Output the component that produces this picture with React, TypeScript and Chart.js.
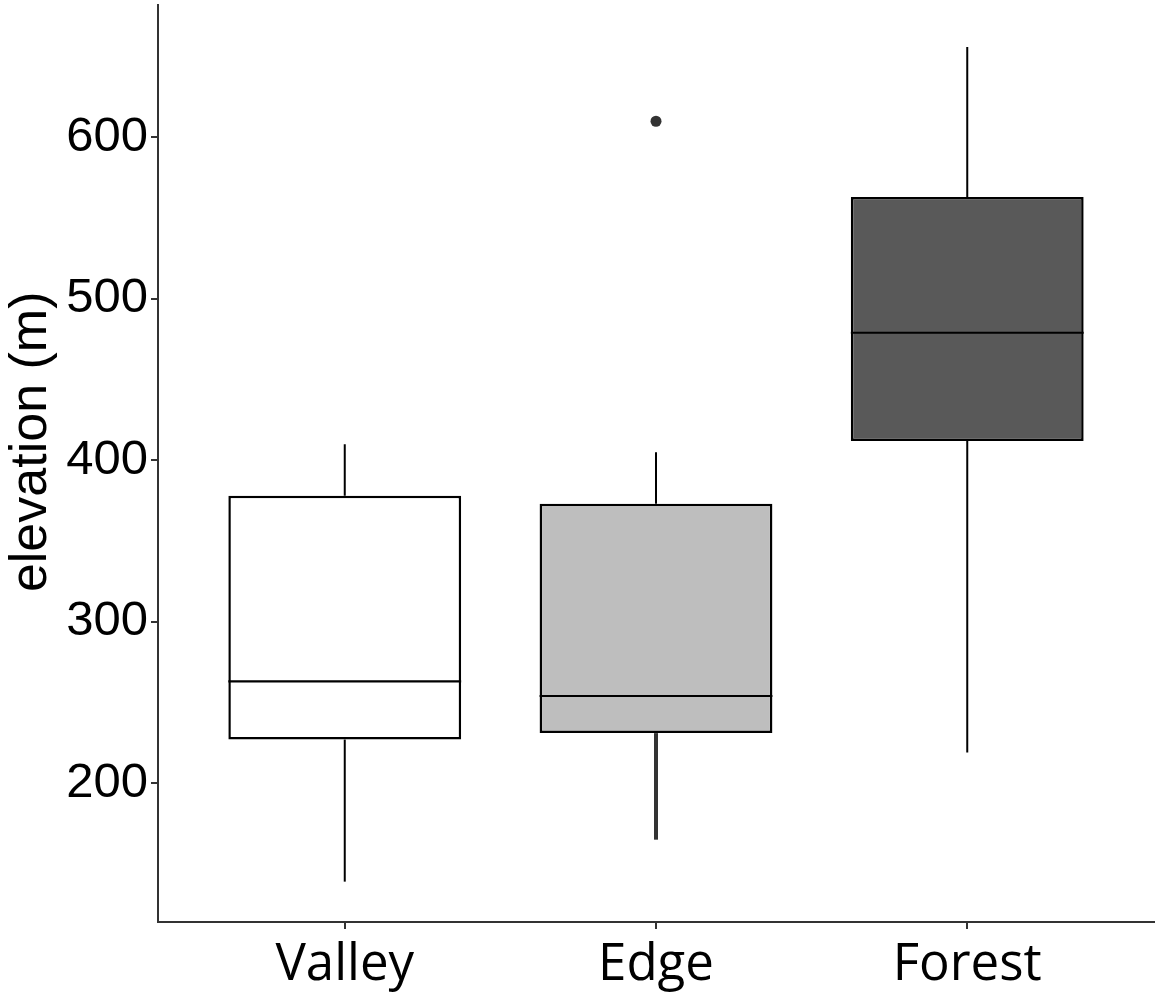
import React, { useEffect, useRef } from 'react';
import { Chart, registerables } from 'chart.js';

Chart.register(...registerables);

const categories = ['Valley', 'Edge', 'Forest'];
const whiskerLow = [139, 165, 219];
const q1 = [227, 231, 412];
const median = [263, 254, 479];
const q3 = [378, 373, 563];
const whiskerHigh = [410, 405, 656];
const outlierCategory = ['Edge'];
const outlierValues = [610];
const yTicks = [200, 300, 400, 500, 600];
const boxColors = ['#ffffff', '#bebebe', '#595959'];
const lowerWhiskerWidths = [2, 4, 2];
const lowerWhiskerColors = ['#000000', '#333333', '#000000'];

const BOX_HALF = 0.374;

export default function App() {
  const ref = useRef<HTMLCanvasElement | null>(null);

  useEffect(() => {
    document.body.style.margin = '0';
    const canvas = ref.current;
    if (!canvas) return;

    const pos = (i: number) => i + 1;

    const boxData = categories.map((_, i) => ({ x: pos(i), y: [q1[i], q3[i]] }));

    const upper: any[] = [];
    const lower: any[] = [];
    const med: any[] = [];
    categories.forEach((_, i) => {
      upper.push({ x: pos(i), y: q3[i] }, { x: pos(i), y: whiskerHigh[i] }, { x: pos(i), y: null });
      lower.push({ x: pos(i), y: whiskerLow[i] }, { x: pos(i), y: q1[i] }, { x: pos(i), y: null });
      med.push(
        { x: pos(i) - BOX_HALF, y: median[i] },
        { x: pos(i) + BOX_HALF, y: median[i] },
        { x: pos(i), y: null }
      );
    });

    const outliers = outlierCategory.map((c, k) => ({
      x: pos(categories.indexOf(c)),
      y: outlierValues[k],
    }));

    const chart = new Chart(canvas, {
      type: 'bar',
      data: {
        datasets: [
          { type: 'line', data: med, borderColor: '#000000', borderWidth: 2.2, pointRadius: 0, spanGaps: false, order: 0 } as any,
          { type: 'line', data: upper, borderColor: '#000000', borderWidth: 2, pointRadius: 0, spanGaps: false, order: 1 } as any,
          {
            type: 'line', data: lower, borderColor: '#000000', borderWidth: 2, pointRadius: 0, spanGaps: false, order: 1,
            segment: {
              borderWidth: (ctx: any) => lowerWhiskerWidths[Math.floor(ctx.p0DataIndex / 3)],
              borderColor: (ctx: any) => lowerWhiskerColors[Math.floor(ctx.p0DataIndex / 3)],
            },
          } as any,
          { type: 'scatter', data: outliers, backgroundColor: '#333333', borderColor: '#333333', pointRadius: 5.5, borderWidth: 0, order: 0 } as any,
          {
            type: 'bar', data: boxData as any, backgroundColor: boxColors, borderColor: '#000000', borderWidth: 2.5,
            borderSkipped: false, categoryPercentage: 1, barPercentage: 0.748, order: 2,
          } as any,
        ],
      },
      options: {
        animation: false,
        responsive: true,
        maintainAspectRatio: false,
        layout: { autoPadding: false, padding: { top: 5, right: 2, left: 0, bottom: 0 } },
        plugins: { legend: { display: false }, tooltip: { enabled: false } },
        scales: {
          x: {
            type: 'linear', min: 0.4, max: 3.6, offset: false,
            grid: { offset: false, drawOnChartArea: false, drawTicks: true, tickLength: 7, color: '#333333', lineWidth: 2 },
            border: { display: true, color: '#333333', width: 2 },
            ticks: {
              color: '#000000', font: { family: 'Open Sans', size: 51 }, padding: 6, maxRotation: 0,
              callback: (v: any) => categories[Math.round(Number(v)) - 1] ?? '',
            },
            afterBuildTicks: (s: any) => { s.ticks = categories.map((_, i) => ({ value: pos(i) })); },
            afterFit: (s: any) => { s.height = 82; s.paddingLeft = 0; s.paddingRight = 0; },
          } as any,
          y: {
            type: 'linear', min: 114, max: 682,
            grid: { drawOnChartArea: false, drawTicks: true, tickLength: 7, color: '#333333', lineWidth: 2 },
            border: { display: true, color: '#333333', width: 2 },
            ticks: { color: '#000000', font: { family: 'Liberation Sans', size: 49 }, padding: 3 },
            afterBuildTicks: (s: any) => { s.ticks = yTicks.map((v) => ({ value: v })); },
            afterFit: (s: any) => { s.width = 158; s.paddingTop = 0; s.paddingBottom = 0; },
            title: {
              display: true, text: '\u00A0\u00A0\u00A0elevation (m)', color: '#000000',
              font: { family: 'Liberation Sans', size: 52 }, padding: { top: 0, bottom: 0 },
            },
          } as any,
        },
      },
    });

    return () => chart.destroy();
  }, []);

  return (
    <div style={{ width: 1156, height: 1004, position: 'relative', overflow: 'hidden' }}>
      <canvas ref={ref} />
    </div>
  );
}
